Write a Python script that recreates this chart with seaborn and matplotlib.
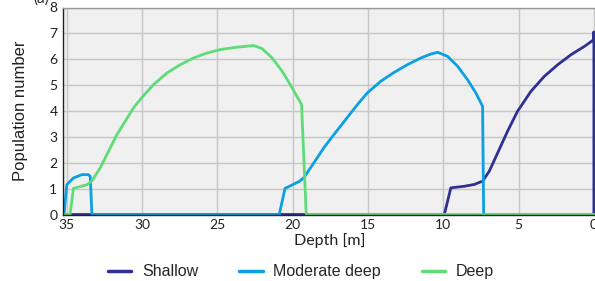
import numpy as np
import pandas as pd
import matplotlib
matplotlib.use('Agg')
import matplotlib.pyplot as plt
import seaborn as sns

# depth [m] / population number
shallow_depth = [35.2, 9.93, 9.5, 8.61, 7.95, 7.39, 6.95, 6.39, 5.73, 5.07, 4.18, 3.29, 2.40,
                 1.51, 0.62, 0.0, 0.0, 0.0]
shallow_pop = [0, 0, 1.03, 1.09, 1.16, 1.29, 1.67, 2.38, 3.22, 3.99, 4.76, 5.34, 5.79,
               6.18, 6.5, 6.76, 7.05, 0]

moderate_depth = [35.18, 35.0, 34.56, 34.0, 33.56, 33.44, 33.33, 20.89, 20.51, 20.11, 19.56, 19.26,
                  18.59, 17.93, 17.26, 16.48, 15.70, 15.04, 14.15, 13.27, 12.38, 11.49, 10.83,
                  10.38, 9.71, 9.05, 8.39, 7.84, 7.39, 7.32, 0.0]
moderate_pop = [0, 1.15, 1.41, 1.54, 1.54, 1.47, 0, 0, 1.01, 1.12, 1.28, 1.42,
                2.0, 2.58, 3.09, 3.67, 4.25, 4.70, 5.15, 5.49, 5.79, 6.05, 6.20,
                6.27, 6.11, 5.73, 5.21, 4.7, 4.18, 0, 0]

deep_depth = [35.2, 34.78, 34.56, 33.67, 33.34, 32.78, 32.23, 31.67, 31.12, 30.57, 30.0, 29.24,
              28.35, 27.46, 26.58, 25.69, 24.85, 23.8, 22.58, 22.03, 21.36, 20.69, 20.03,
              19.41, 19.1, 0.0]
deep_pop = [0, 0, 1.01, 1.15, 1.29, 1.80, 2.44, 3.09, 3.60, 4.12, 4.53, 5.02,
            5.47, 5.79, 6.05, 6.24, 6.37, 6.46, 6.53, 6.41, 6.05, 5.53, 4.89,
            4.25, 0, 0]

names = ['Shallow', 'Moderate deep', 'Deep']
colors = ['#2e3192', '#0aa0e2', '#5ddc78']

frames = []
for n, d, p in zip(names, [shallow_depth, moderate_depth, deep_depth],
                   [shallow_pop, moderate_pop, deep_pop]):
    frames.append(pd.DataFrame({'depth': d, 'pop': p, 'series': n,
                                'order': np.arange(len(d))}))
df = pd.concat(frames, ignore_index=True)

sns.set_style('whitegrid')
plt.rcParams['font.family'] = ['Lato', 'DejaVu Sans']

fig = plt.figure(figsize=(5.95, 2.81), dpi=100)
ax = fig.add_axes([63 / 595, 66.5 / 281, (595.7 - 63) / 595, 207 / 281])
ax.set_facecolor('#f0f0f0')

sns.lineplot(data=df, x='depth', y='pop', hue='series', palette=colors,
             hue_order=names, sort=False, estimator=None, linewidth=2,
             legend=False, ax=ax)

ax.set_xlim(35.25, -0.12)
ax.set_ylim(0, 8)
ax.set_xticks([35, 30, 25, 20, 15, 10, 5, 0])
ax.set_yticks(range(9))
ax.grid(True, color='#c6c6c6', linewidth=1)
ax.tick_params(axis='both', labelsize=10, length=3, width=0.8, color='#333333',
               pad=1, labelcolor='#222222')
ax.tick_params(axis='x', pad=0)
for s in ['left', 'bottom']:
    ax.spines[s].set_color('#222222')
    ax.spines[s].set_linewidth(1)
for s in ['top', 'right']:
    ax.spines[s].set_color('#999999')
    ax.spines[s].set_linewidth(1)

ax.set_xlabel('Depth [m]', fontsize=11.5, labelpad=2, color='#222222')
ax.set_ylabel('Population number', fontsize=12, labelpad=15,
              family=['Liberation Sans', 'DejaVu Sans'], color='#222222')

handles = [plt.Line2D([], [], color=c, linewidth=2.5) for c in colors]
fig.legend(handles, names, loc='center', bbox_to_anchor=(0.506, 0.033), ncol=3,
           frameon=False, handlelength=1.45, handletextpad=0.65, columnspacing=2.6,
           prop={'family': ['Liberation Sans', 'DejaVu Sans'], 'size': 11.5})

fig.text(0.07, 1.005, '(a)', fontsize=11, ha='center', va='center', color='#222222')

fig.savefig('out.png', dpi=100)
